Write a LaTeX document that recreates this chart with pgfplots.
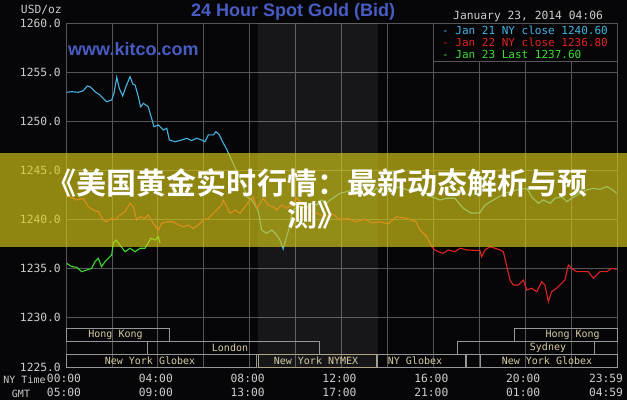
\documentclass[border=0pt]{standalone}
\usepackage{pgfplots}
\pgfplotsset{compat=1.18}
\usepackage{fontspec}
\setmainfont{Liberation Sans}
\newfontfamily\mono{DejaVu Sans Mono}
\newfontfamily\cjk{Noto Sans CJK SC Bold}
\definecolor{bgc}{RGB}{6,6,8}
\definecolor{gridc}{RGB}{85,85,85}
\definecolor{tickc}{RGB}{205,205,205}
\definecolor{sesc}{RGB}{215,205,165}
\definecolor{boxc}{RGB}{150,150,150}
\definecolor{c21}{RGB}{70,180,225}
\definecolor{c22}{RGB}{225,35,35}
\definecolor{c23}{RGB}{60,220,50}
\definecolor{titc}{RGB}{72,92,196}
\definecolor{banc}{RGB}{215,203,22}
\begin{document}
\begin{tikzpicture}[x=1bp,y=1bp]
\fill[bgc] (-66,-33) rectangle (561,367);
\begin{axis}[
  at={(0,0)}, anchor=south west, scale only axis,
  width=551bp, height=344bp,
  xmin=0, xmax=24, ymin=1225, ymax=1260,
  axis line style={gridc, line width=0.8bp},
  xtick={0,4,...,20}, minor xtick={2,6,...,22},
  xticklabels={{00:00\\05:00},{04:00\\09:00},{08:00\\13:00},{12:00\\17:00},{16:00\\21:00},{20:00\\01:00}},
  extra x ticks={24}, extra x tick labels={{23:59\\04:59}},
  extra x tick style={grid=none, xticklabel style={xshift=-9bp}},
  ytick={1225,1230,...,1260},
  yticklabels={1225.0,1230.0,1235.0,1240.0,1245.0,1250.0,1255.0,1260.0},
  grid=both,
  major grid style={gridc, line width=0.8bp},
  minor grid style={gridc, line width=0.8bp},
  major tick length=0pt, minor tick length=0pt,
  xticklabel style={font=\mono\fontsize{11.3bp}{14bp}\selectfont, text=tickc, align=center, anchor=north, inner sep=0pt, yshift=-7bp, xshift=-2bp},
  yticklabel style={font=\mono\fontsize{11.3bp}{13bp}\selectfont, text=tickc, anchor=east, inner sep=0pt, xshift=-5bp},
]
\fill[white, opacity=0.07] (axis cs:8.36,1225) rectangle (axis cs:13.6,1260);
% Jan 21
\addplot[c21, line width=1.1bp] coordinates {
(0.03,1252.95)(0.25,1253.01)(0.54,1252.95)(0.75,1253.11)(0.93,1253.59)(1.05,1253.52)
(1.26,1253.01)(1.48,1252.67)(1.77,1251.99)(1.99,1252.17)(2.09,1252.85)(2.21,1254.48)
(2.32,1253.36)(2.47,1252.57)(2.61,1253.52)(2.79,1254.54)(2.91,1253.79)(3.01,1253.69)
(3.15,1252.50)(3.25,1251.48)(3.37,1251.83)(3.58,1251.48)(3.73,1250.30)(3.83,1249.45)
(4.02,1249.62)(4.24,1249.11)(4.39,1249.29)(4.50,1248.10)(4.75,1247.92)(5.04,1248.10)
(5.26,1248.27)(5.47,1248.03)(5.69,1248.27)(5.91,1248.10)(6.05,1247.92)(6.20,1248.61)
(6.42,1248.61)(6.53,1248.94)(6.68,1248.61)(6.82,1247.92)(7.00,1247.15)(7.27,1245.76)
(7.65,1243.85)(7.87,1242.33)(8.09,1241.99)(8.23,1241.48)(8.38,1240.80)(8.52,1238.94)
(8.74,1238.60)(8.96,1238.94)(9.18,1238.43)(9.32,1237.92)(9.46,1237.01)(9.61,1238.26)
(9.76,1239.45)(9.83,1240.80)(9.97,1241.15)(10.19,1241.31)(10.48,1241.15)(10.70,1241.66)
(10.92,1241.48)(11.14,1241.99)(11.35,1241.66)(11.50,1241.99)(11.72,1242.33)(11.93,1242.67)
(12.23,1242.84)(12.51,1243.01)(12.80,1242.84)(13.10,1243.35)(13.31,1242.67)(13.53,1243.18)
(13.82,1242.67)(14.11,1243.01)(14.55,1243.31)(14.98,1242.91)(15.42,1243.11)(15.85,1242.40)
(16.29,1241.99)(16.58,1242.17)(16.94,1242.17)(17.30,1241.15)(17.67,1240.64)(18.03,1240.70)
(18.25,1241.48)(18.61,1241.99)(19.12,1242.67)(19.63,1243.01)(20.07,1243.18)(20.28,1242.33)
(20.57,1241.66)(20.79,1241.99)(21.08,1241.66)(21.30,1242.17)(21.59,1242.33)(21.81,1241.82)
(22.03,1242.17)(22.39,1242.67)(22.68,1243.01)(22.97,1243.18)(23.26,1243.08)(23.55,1243.35)
(23.77,1243.08)(23.98,1242.67)};
% Jan 22
\addplot[c22, line width=1.1bp] coordinates {
(0.00,1242.50)(0.17,1242.33)(0.47,1241.99)(0.75,1242.17)(0.97,1241.31)(1.19,1240.97)
(1.41,1240.80)(1.62,1239.96)(1.77,1239.78)(1.99,1240.13)(2.13,1239.96)(2.35,1240.47)
(2.57,1240.80)(2.79,1241.66)(2.93,1241.31)(3.08,1239.96)(3.22,1240.29)(3.44,1240.13)
(3.58,1240.47)(3.80,1239.62)(4.02,1238.94)(4.17,1239.62)(4.39,1239.78)(4.67,1239.78)
(4.89,1239.45)(5.11,1239.28)(5.33,1239.45)(5.54,1239.11)(5.76,1239.45)(5.98,1239.96)
(6.20,1240.13)(6.42,1240.64)(6.63,1241.15)(6.78,1241.48)(6.85,1241.99)(7.00,1241.31)
(7.14,1240.64)(7.36,1240.97)(7.58,1240.64)(7.80,1241.31)(8.01,1241.99)(8.16,1242.33)
(8.31,1241.15)(8.59,1242.17)(8.81,1241.48)(9.03,1241.31)(9.18,1240.97)(9.39,1241.48)
(9.61,1241.15)(9.83,1241.48)(10.05,1242.20)(10.34,1241.48)(10.63,1240.97)(10.93,1240.67)
(11.24,1240.29)(11.63,1240.57)(11.93,1239.96)(12.28,1240.13)(12.63,1239.75)(12.98,1240.06)
(13.33,1239.65)(13.68,1239.78)(14.02,1239.55)(14.40,1240.29)(14.84,1240.13)(15.24,1239.78)
(15.42,1238.94)(15.71,1238.26)(15.93,1237.24)(16.07,1236.91)(16.21,1236.73)(16.43,1236.57)
(16.65,1236.91)(16.94,1236.73)(17.16,1237.08)(17.45,1236.91)(18.03,1236.84)(18.10,1236.22)
(18.25,1236.91)(18.47,1237.24)(18.68,1237.08)(18.90,1236.91)(19.05,1236.73)(19.20,1235.21)
(19.34,1233.85)(19.48,1233.34)(19.70,1233.34)(19.92,1233.85)(20.07,1232.84)(20.28,1233.01)
(20.50,1232.66)(20.72,1233.68)(20.86,1233.34)(21.01,1231.65)(21.15,1232.66)(21.37,1233.01)
(21.59,1233.52)(21.73,1233.85)(21.88,1235.38)(22.02,1235.04)(22.24,1234.70)(22.53,1234.70)
(22.75,1234.70)(22.97,1234.03)(23.26,1234.70)(23.55,1234.70)(23.77,1235.04)(23.98,1234.94)};
% Jan 23
\addplot[c23, line width=1.1bp] coordinates {
(0.03,1235.55)(0.25,1235.21)(0.47,1235.15)(0.68,1234.70)(0.90,1234.87)(1.12,1235.04)
(1.26,1235.72)(1.41,1236.06)(1.55,1235.21)(1.70,1235.72)(1.84,1236.06)(1.99,1236.40)
(2.06,1237.59)(2.18,1237.92)(2.35,1237.41)(2.57,1236.73)(2.79,1237.08)(3.01,1236.73)
(3.22,1237.08)(3.44,1237.08)(3.58,1237.62)(3.69,1238.10)(3.88,1237.92)(4.02,1238.26)
(4.10,1237.60)};
\end{axis}
% session boxes
\begin{scope}[draw=boxc, line width=0.8bp]
\draw (0,26) rectangle (103,39);
\draw (448,26) rectangle (551,39);
\draw (81,13) rectangle (253,26);
\draw (391,13) rectangle (528,26);
\draw (0,0) rectangle (190,13);
\draw[sesc!80!black] (192,0) rectangle (310,13);
\draw (311,0) rectangle (399,13);
\draw (400,0) rectangle (414,13);
\draw (414,0) rectangle (551,13);
\end{scope}
\begin{scope}[every node/.style={font=\mono\fontsize{10bp}{12bp}\selectfont, text=sesc, inner sep=0pt}]
\node at (49.5,32.5) {Hong Kong};
\node at (506.6,32.5) {Hong Kong};
\node at (164,19.5) {London};
\node at (482,19.5) {Sydney};
\node at (84,6.5) {New York Globex};
\node at (250,6.5) {New York NYMEX};
\node at (349,6.5) {NY Globex};
\node at (481,6.5) {New York Globex};
\end{scope}
% axis captions
\node[font=\mono\fontsize{10bp}{12bp}\selectfont, text=tickc, inner sep=0pt] at (-41.5,-13) {NY Time};
\node[font=\mono\fontsize{10bp}{12bp}\selectfont, text=tickc, inner sep=0pt] at (-45,-27) {GMT};
\node[font=\mono\fontsize{11.3bp}{13bp}\selectfont, text=tickc, inner sep=0pt, anchor=east] at (-4,357) {USD/oz};
% title and site
\node[font=\bfseries\fontsize{18bp}{21bp}\selectfont, text=titc, inner sep=0pt] at (227,355) {24 Hour Spot Gold (Bid)};
\node[font=\bfseries\fontsize{18bp}{21bp}\selectfont, text=titc, inner sep=0pt, anchor=base west] at (2,312) {www.kitco.com};
\node[font=\mono\fontsize{11.3bp}{13bp}\selectfont, text=tickc, inner sep=0pt, anchor=west] at (387,351) {January 23, 2014 04:06};
% legend box
\fill[bgc, draw=gridc, line width=0.8bp] (367,306) rectangle (551,344);
\begin{scope}[every node/.style={font=\mono\fontsize{11bp}{13bp}\selectfont, inner sep=0pt, anchor=west}]
\node[text=c21] at (376,337) {- Jan 21 NY close 1240.60};
\node[text=c22] at (376,325) {- Jan 22 NY close 1236.80};
\node[text=c23] at (376,313) {- Jan 23 Last 1237.60};
\end{scope}
% banner
\fill[banc, opacity=0.65] (-66,120) rectangle (561,214);
\node[font=\cjk\fontsize{30bp}{36bp}\selectfont, text=white, inner sep=0pt, anchor=base] at (251,172.6) {《美国黄金实时行情：最新动态解析与预};
\node[font=\cjk\fontsize{30bp}{36bp}\selectfont, text=white, inner sep=0pt, anchor=base] at (251,140.6) {测》};
\pgfresetboundingbox
\path (-66,-33) rectangle (561,367);
\end{tikzpicture}
\end{document}
